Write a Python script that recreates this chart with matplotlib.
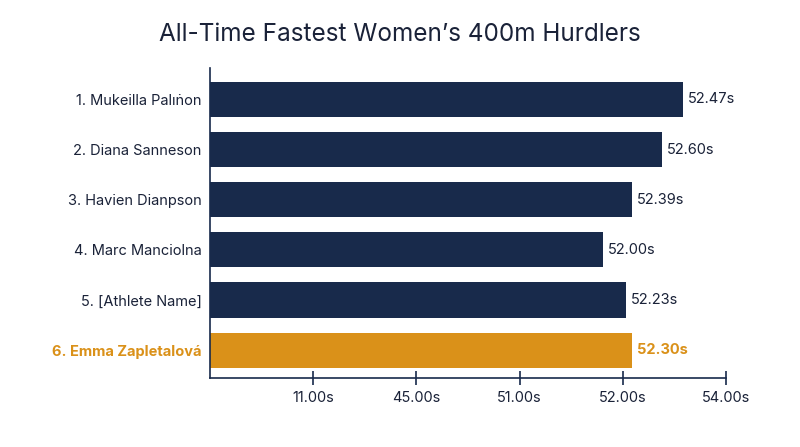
import matplotlib
matplotlib.use("Agg")
import matplotlib.pyplot as plt

# data
athletes = ["1. Mukeilla Palıṅon", "2. Diana Sanneson", "3. Havien Dianpson",
            "4. Marc Manciolna", "5. [Athlete Name]", "6. Emma Zapletalová"]
time_labels = ["52.47s", "52.60s", "52.39s", "52.00s", "52.23s", "52.30s"]
# bar lengths in axis units (the axis ticks are evenly spaced categories)
bar_lengths = [4.58, 4.38, 4.09, 3.81, 4.03, 4.09]
tick_labels = ["11.00s", "45.00s", "51.00s", "52.00s", "54.00s"]
highlight = 5

navy = "#182a4b"
gold = "#da9119"
text_col = "#1a2238"

plt.rcParams['font.family'] = ['Inter', 'DejaVu Sans']

fig = plt.figure(figsize=(8, 4.47), dpi=100)
ax = fig.add_axes([0.2625, 0.1537, 0.645, 0.6935])

ypos = list(range(len(athletes)))
colors = [gold if i == highlight else navy for i in ypos]
ax.barh(ypos, bar_lengths, height=0.7, color=colors)

for i in ypos:
    c = gold if i == highlight else text_col
    w = "bold" if i == highlight else "normal"
    ax.text(bar_lengths[i] + 0.05, i, time_labels[i], va="center", ha="left",
            fontsize=10.5, color=c, fontweight=w, clip_on=False)

ax.set_ylim(len(athletes) - 1 + 0.56, -0.62)
ax.set_xlim(0, 5)
ax.set_yticks(ypos)
ax.set_yticklabels(athletes, fontsize=10.5, color=text_col)
for i, lab in enumerate(ax.get_yticklabels()):
    if i == highlight:
        lab.set_color(gold)
        lab.set_fontweight("bold")
ax.tick_params(axis="y", length=0, pad=6)

ax.set_xticks(range(1, len(tick_labels) + 1))
ax.set_xticklabels(tick_labels, fontsize=10.5, color=text_col)
ax.tick_params(axis="x", direction="inout", length=10, width=1.2, color=navy, pad=4)

for s in ["top", "right"]:
    ax.spines[s].set_visible(False)
for s in ["left", "bottom"]:
    ax.spines[s].set_color(navy)
    ax.spines[s].set_linewidth(1.2)

fig.text(0.5, 0.922, "All-Time Fastest Women’s 400m Hurdlers", ha="center", va="center",
         fontsize=17.5, color=text_col)

fig.savefig("out.png", dpi=100)
